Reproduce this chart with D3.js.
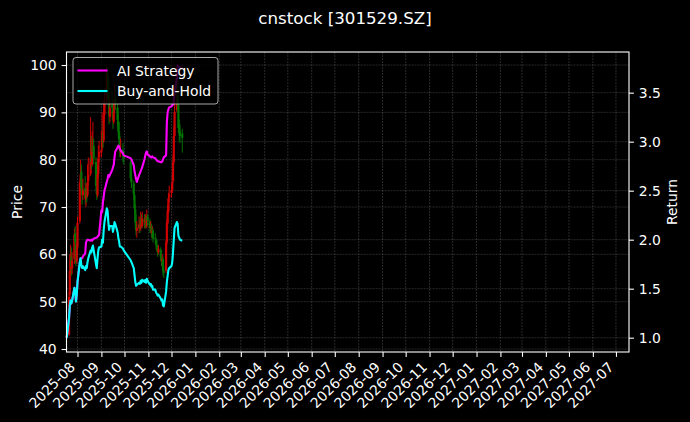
<!DOCTYPE html>
<html><head><meta charset="utf-8">
<script src="https://cdn.jsdelivr.net/npm/d3@7"></script>
<style>body{margin:0;background:#000}svg{display:block}text{font-family:"DejaVu Sans",sans-serif;fill:#fff}</style>
</head><body><svg id="c" width="690" height="422"></svg>
<script>
// ---- data ----
const title = "cnstock [301529.SZ]";
const firstDay = "2025-07-18", lastDay = "2025-12-15";
const holidays = ["2025-10-01","2025-10-02","2025-10-03","2025-10-06","2025-10-07","2025-10-08"];
const openP = [42.4,
 43.0,51.5,56.0,59.5,57.0, 59.0,64.5,62.0,58.5,61.5, 67.0,76.0,77.5,74.0,72.5, 74.0,71.5,74.0,72.5,75.5,
 77.0,81.0,79.0,82.0,83.0, 79.5,74.0,72.5,77.0,80.5, 81.5,82.5,85.5,84.0,89.5, 93.0,98.0,97.0,92.0,89.0,
 91.5,90.5,88.0,90.5,93.0, 91.0,88.0,86.0,84.0,81.5, 82.0,81.0, 79.5,76.0,
 75.0,72.5,69.5,66.5,65.0, 65.5,66.5,65.5,67.5,66.0, 67.5,66.5,67.5,66.0,68.0, 67.0,65.5,66.0,64.5,65.0,
 63.5,63.0,62.0,61.5,60.5, 61.0,59.5,58.5,59.0,56.5, 56.5,62.5,66.5,69.0,72.0, 73.0,73.5,75.5,79.5,85.0,
 90.5,93.5,91.5,87.0,86.0, 85.5];
const highP = [44.0,
 52.0,60.0,62.0,61.5,60.5, 65.5,66.0,63.0,62.5,68.0, 76.0,80.0,79.0,75.5,76.0, 76.5,75.0,75.0,79.0,80.5,
 89.0,85.0,86.0,88.0,84.5, 80.5,76.0,78.5,83.0,84.0, 86.0,90.0,88.0,92.0,95.0, 99.9,99.5,98.0,94.0,93.0,
 94.5,92.0,92.5,96.0,95.0, 92.0,89.5,88.0,85.0,84.5, 83.5,82.0, 80.0,77.5,
 75.5,73.0,70.5,68.5,67.0, 68.0,67.5,69.0,68.5,69.0, 68.5,68.5,68.0,69.5,68.5, 67.5,67.0,66.5,66.0,65.5,
 64.5,63.5,63.0,62.0,62.0, 61.5,60.0,60.0,59.5,57.5, 63.0,67.5,70.5,73.0,74.5, 75.0,77.0,81.0,87.0,92.0,
 99.8,98.0,92.5,88.5,87.5, 86.5];
const lowP = [42.3,
 42.8,50.5,55.0,55.5,55.8, 58.0,61.0,57.5,58.0,61.0, 66.5,74.0,72.5,70.5,71.5, 70.5,70.0,71.0,72.0,74.5,
 76.5,78.0,78.5,80.0,79.0, 73.5,71.5,72.0,76.0,79.5, 80.5,82.0,82.5,83.5,88.0, 92.0,94.5,91.5,87.5,88.0,
 89.5,86.5,87.5,90.0,90.5, 87.0,84.5,83.0,80.5,80.5, 79.5,79.0, 75.5,74.0,
 71.5,68.5,65.5,64.0,63.5, 64.5,64.5,65.0,65.5,65.5, 65.5,65.5,65.5,65.5,66.0, 64.5,64.5,63.5,63.5,62.5,
 62.0,61.0,60.5,59.5,60.0, 58.5,57.5,57.5,55.5,55.0, 56.0,62.0,65.5,68.5,71.0, 72.0,73.0,75.0,79.0,84.5,
 90.0,90.5,85.5,84.0,83.5, 81.5];
const closeP = [42.5,
 51.0,56.5,58.7,57.4,58.7, 64.2,62.5,58.2,61.2,66.7, 75.2,76.9,74.0,72.7,73.5, 71.8,73.5,72.7,75.2,76.9,
 80.3,79.5,81.6,82.5,80.3, 74.4,72.7,76.9,80.3,81.6, 82.0,85.0,83.7,89.3,92.7, 98.6,97.8,92.7,89.3,91.0,
 91.0,88.4,90.1,92.7,91.8, 88.4,85.9,84.2,82.0,82.0, 81.2,80.3, 76.1,75.2,
 72.7,69.7,66.7,65.0,65.5, 66.3,65.9,67.2,66.3,67.6, 66.7,67.6,66.3,68.0,67.2, 65.5,65.9,64.6,65.0,63.3,
 63.3,62.1,61.6,60.8,61.2, 59.5,58.7,59.1,56.5,56.1, 62.5,66.7,69.3,71.8,72.7, 73.5,75.2,79.5,85.0,90.1,
 92.7,91.8,86.7,85.9,85.0, 84.6];
const strategy = [1.00,
 1.20,1.33,1.38,1.35,1.38, 1.51,1.47,1.37,1.44,1.57, 1.77,1.81,1.81,1.81,1.83, 1.86,1.97,1.99,2.00,2.00,
 1.99,2.00,1.99,2.00,2.01, 2.02,2.02,2.03,2.04,2.05, 2.30,2.28,2.38,2.44,2.50, 2.59,2.62,2.66,2.64,2.66,
 2.71,2.74,2.76,2.84,2.90, 2.94,2.96,2.95,2.93,2.91, 2.88,2.86, 2.83,2.82,
 2.76,2.70,2.66,2.62,2.59, 2.66,2.68,2.70,2.72,2.74, 2.82,2.86,2.89,2.90,2.87, 2.85,2.84,2.84,2.85,2.84,
 2.83,2.82,2.81,2.80,2.80, 2.79,2.79,2.80,2.82,2.84, 2.86,3.20,3.30,3.33,3.35, 3.36,3.37,3.38,3.41,3.50,
 3.65,3.78,3.77,3.76,3.76, 3.75];
const buyHold = [1.00,
 1.20,1.33,1.38,1.35,1.38, 1.51,1.47,1.37,1.44,1.57, 1.77,1.81,1.74,1.71,1.73, 1.69,1.73,1.71,1.77,1.81,
 1.89,1.87,1.92,1.94,1.89, 1.75,1.71,1.81,1.89,1.92, 1.93,2.00,1.97,2.10,2.18, 2.32,2.30,2.18,2.10,2.14,
 2.14,2.08,2.12,2.18,2.16, 2.08,2.02,1.98,1.93,1.93, 1.91,1.89, 1.79,1.77,
 1.71,1.64,1.57,1.53,1.54, 1.56,1.55,1.58,1.56,1.59, 1.57,1.59,1.56,1.60,1.58, 1.54,1.55,1.52,1.53,1.49,
 1.49,1.46,1.45,1.43,1.44, 1.40,1.38,1.39,1.33,1.32, 1.47,1.57,1.63,1.69,1.71, 1.73,1.77,1.87,2.00,2.12,
 2.18,2.16,2.04,2.02,2.00, 1.99];
const priceTicks = [40,50,60,70,80,90,100];
const returnTicks = [1.0,1.5,2.0,2.5,3.0,3.5];
const seriesNames = ["AI Strategy","Buy-and-Hold"];
const seriesColors = ["#ff00ff","#00ffff"];

// ---- calendar of trading days ----
const pd = d3.timeParse("%Y-%m-%d"), fd = d3.timeFormat("%Y-%m-%d");
const dates = d3.timeDay.range(pd(firstDay), d3.timeDay.offset(pd(lastDay),1))
  .filter(d => d.getDay()!==0 && d.getDay()!==6 && !holidays.includes(fd(d)));

// ---- layout ----
const W=690,H=422, L=66.5, R=629, T=52, B=352;
const svg = d3.select("#c");
svg.append("rect").attr("width",W).attr("height",H).attr("fill","#000");

const x = d3.scaleTime().domain([new Date(2025,6,17,17), new Date(2027,6,17,22)]).range([L,R]);
const yP = d3.scaleLinear().domain([39.37,102.75]).range([B,T]);
const yR = d3.scaleLinear().domain([0.854,3.915]).range([B,T]);
const months = d3.timeMonth.range(new Date(2025,7,1), new Date(2027,6,2));

// grid
const grid = svg.append("g").attr("stroke","#9a9a9a").attr("stroke-opacity",0.45)
  .attr("stroke-width",0.6).attr("stroke-dasharray","2,1");
months.forEach(m=>grid.append("line").attr("x1",x(m)).attr("x2",x(m)).attr("y1",T).attr("y2",B));
priceTicks.forEach(v=>grid.append("line").attr("x1",L).attr("x2",R).attr("y1",yP(v)).attr("y2",yP(v)));
returnTicks.forEach(v=>grid.append("line").attr("x1",L).attr("x2",R).attr("y1",yR(v)).attr("y2",yR(v)));

// candles
const cg = svg.append("g").attr("opacity",0.8);
dates.forEach((d,i)=>{
  const up = closeP[i] >= openP[i];
  const col = up ? "#ff0000" : "#009000";
  const cx = x(d);
  cg.append("line").attr("x1",cx).attr("x2",cx).attr("y1",yP(highP[i])).attr("y2",yP(lowP[i]))
    .attr("stroke",col).attr("stroke-width",1);
  const y1 = yP(Math.max(openP[i],closeP[i])), y2 = yP(Math.min(openP[i],closeP[i]));
  cg.append("rect").attr("x",cx-1.1).attr("width",2.2).attr("y",y1).attr("height",Math.max(0.8,y2-y1))
    .attr("fill",col);
});

// lines
[strategy,buyHold].forEach((s,k)=>{
  svg.append("path").datum(s).attr("fill","none").attr("stroke",seriesColors[k]).attr("stroke-width",2.1)
    .attr("stroke-linejoin","round")
    .attr("d", d3.line().x((v,i)=>x(dates[i])).y(v=>yR(v)));
});

// legend
const lg = svg.append("g");
lg.append("rect").attr("x",73).attr("y",57.5).attr("width",145).attr("height",46.5).attr("rx",3)
  .attr("fill","#000").attr("fill-opacity",0.8).attr("stroke","#d0d0d0").attr("stroke-opacity",0.8).attr("stroke-width",1);
seriesNames.forEach((n,k)=>{
  const yy = 70.5 + k*20.5;
  lg.append("line").attr("x1",77.5).attr("x2",107.5).attr("y1",yy).attr("y2",yy)
    .attr("stroke",seriesColors[k]).attr("stroke-width",2.1);
  lg.append("text").attr("x",117).attr("y",yy).attr("dy","0.36em").attr("font-size",13.9).text(n);
});

// axes
const fmtM = d3.timeFormat("%Y-%m");
const ax = svg.append("g").attr("transform",`translate(0,${B})`)
  .call(d3.axisBottom(x).tickValues(months).tickFormat(fmtM).tickSize(4.9).tickPadding(3));
ax.selectAll("text").attr("font-size",13.9).attr("text-anchor","end")
  .attr("x",0).attr("y",0).attr("dy",0).attr("dx",0)
  .attr("transform","translate(-2,16) rotate(-45)");
const ayL = svg.append("g").attr("transform",`translate(${L},0)`)
  .call(d3.axisLeft(yP).tickValues(priceTicks).tickFormat(d3.format("d")).tickSize(4.9).tickPadding(4.9));
ayL.selectAll("text").attr("font-size",13.9);
const ayR = svg.append("g").attr("transform",`translate(${R},0)`)
  .call(d3.axisRight(yR).tickValues(returnTicks).tickFormat(d3.format(".1f")).tickSize(4.9).tickPadding(4.9));
ayR.selectAll("text").attr("font-size",13.9);
[ax,ayL,ayR].forEach(a=>{a.select(".domain").remove(); a.selectAll("line").attr("stroke","#fff").attr("stroke-width",1.1);
  a.selectAll("text").attr("fill","#fff").attr("font-family","DejaVu Sans");});
svg.append("rect").attr("x",L).attr("y",T).attr("width",R-L).attr("height",B-T)
  .attr("fill","none").attr("stroke","#fff").attr("stroke-width",1.1);

// labels
svg.append("text").attr("x",345).attr("y",18).attr("dy","0.36em").attr("text-anchor","middle")
  .attr("font-size",16.7).text(title);
svg.append("text").attr("transform",`translate(17,${(T+B)/2}) rotate(-90)`).attr("dy","0.36em")
  .attr("text-anchor","middle").attr("font-size",13.9).text("Price");
svg.append("text").attr("transform",`translate(672,${(T+B)/2}) rotate(-90)`).attr("dy","0.36em")
  .attr("text-anchor","middle").attr("font-size",13.9).text("Return");
</script></body></html>
